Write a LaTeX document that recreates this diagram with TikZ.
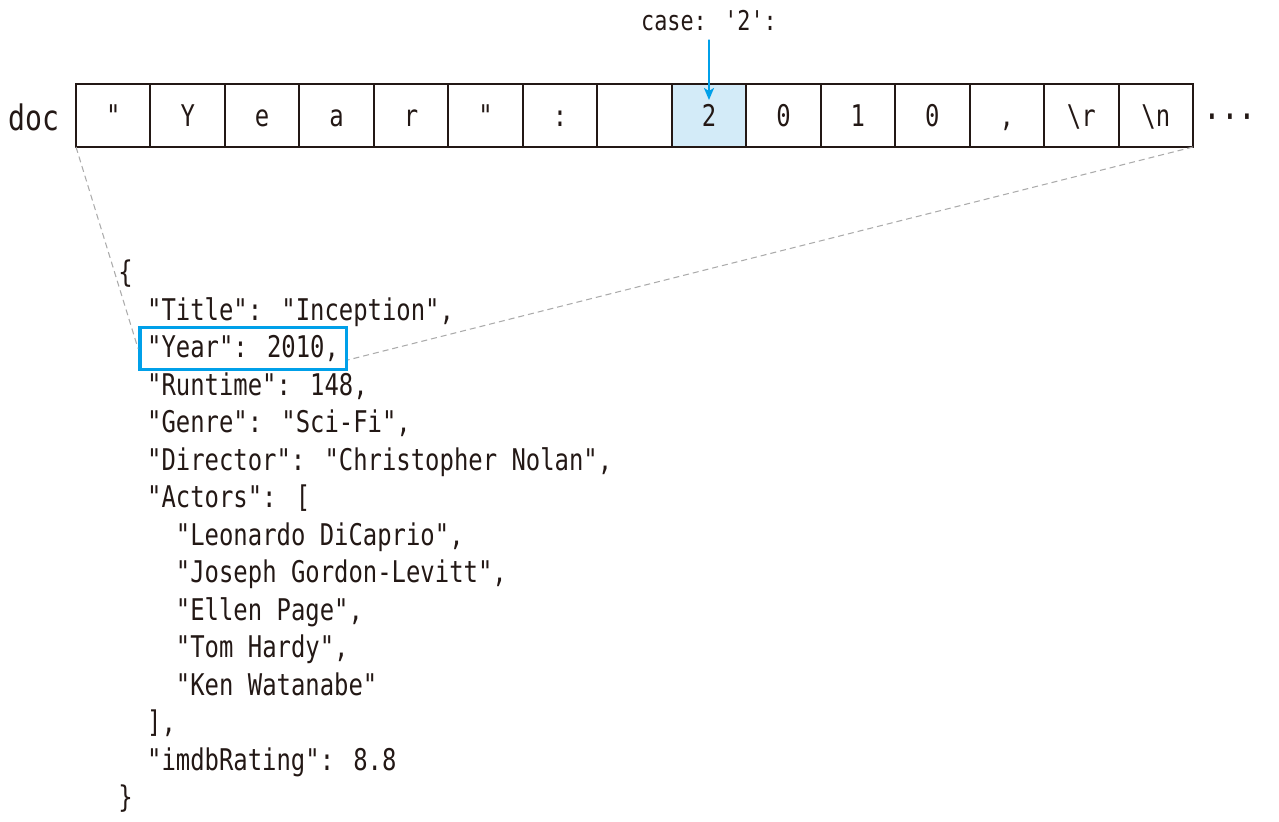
\documentclass[tikz,border=0pt]{standalone}
\usepackage{fontspec}
\usepackage{xcolor}
\usetikzlibrary{calc,arrows.meta,fit}
\newfontfamily\codefont[FakeStretch=0.8]{DejaVu Sans Mono}
\definecolor{inkc}{HTML}{231815}
\definecolor{pickc}{HTML}{00A0E9}
\definecolor{pickbg}{HTML}{D3EBF8}
\definecolor{guidec}{HTML}{ABABAB}
\tikzset{
  cell/.style={draw=inkc,line width=1.1pt,minimum width=1.4894cm,minimum height=1.26cm,inner sep=0pt,outer sep=0pt,
    text height=12.4pt,text depth=0pt,text=inkc,font=\codefont\fontsize{17}{20}\selectfont},
  hl/.style={fill=pickbg},
  code/.style={anchor=base west,inner sep=0pt,text=inkc,font=\codefont\fontsize{17}{20}\selectfont},
  selbox/.style={draw=pickc,line width=2pt,inner xsep=0.14cm,inner ysep=0.15cm},
  guide/.style={draw=guidec,line width=0.6pt,dash pattern=on 0.12cm off 0.08cm},
  pick/.style={-{Stealth[length=2.4mm,width=2mm,inset=0.6mm]},pickc,line width=1.1pt}
}

\begin{document}
\begin{tikzpicture}[x=0.02cm,y=-0.02cm]
\useasboundingbox (0,0) rectangle (1279,822);
% byte cells of doc
\foreach \ch/\opt [count=\i] in {"/,Y/,e/,a/,r/,"/,:/,{}/,2/hl,0/,1/,0/,{,}/,\textbackslash r/,\textbackslash n/}
  \node[cell,\opt] (c\i) at ({76+74.47*(\i-0.5)},115.5) {\ch};
\node[text=inkc,inner sep=0pt,font=\codefont\fontsize{20}{24}\selectfont] (doc) at (34,117) {doc};
\node[anchor=base,inner sep=0pt,text=inkc,font=\codefont\fontsize{21}{24}\selectfont] (more) at (1230,129) {···};
\node[anchor=base,inner sep=0pt,text=inkc,font=\codefont\fontsize{15.5}{18}\selectfont] (case) at (709,30) {case: '2':};
\draw[pick] ([yshift=-0.18cm]case.south) -- ([yshift=-0.32cm]c9.north);
% json text
\foreach \lv/\txt [count=\i] in {0/\{, 1/{"Title": "Inception",}, 1/{"Year": 2010,}, 1/{"Runtime": 148,},
  1/{"Genre": "Sci-Fi",}, 1/{"Director": "Christopher Nolan",}, 1/{"Actors": [},
  2/{"Leonardo DiCaprio",}, 2/{"Joseph Gordon-Levitt",}, 2/{"Ellen Page",}, 2/{"Tom Hardy",},
  2/{"Ken Watanabe"}, 1/{],}, 1/{"imdbRating": 8.8}, 0/\}}
  \node[code] (ln\i) at ({118+28.8*\lv},{282.5+37.5*(\i-1)}) {\txt};
\node[selbox,fit=(ln3)] (sel) {};
\draw[guide] (c1.south west) -- (sel.west);
\draw[guide] (c15.south east) -- ($(sel.east)!0.5!(sel.south east)$);
\end{tikzpicture}
\end{document}
